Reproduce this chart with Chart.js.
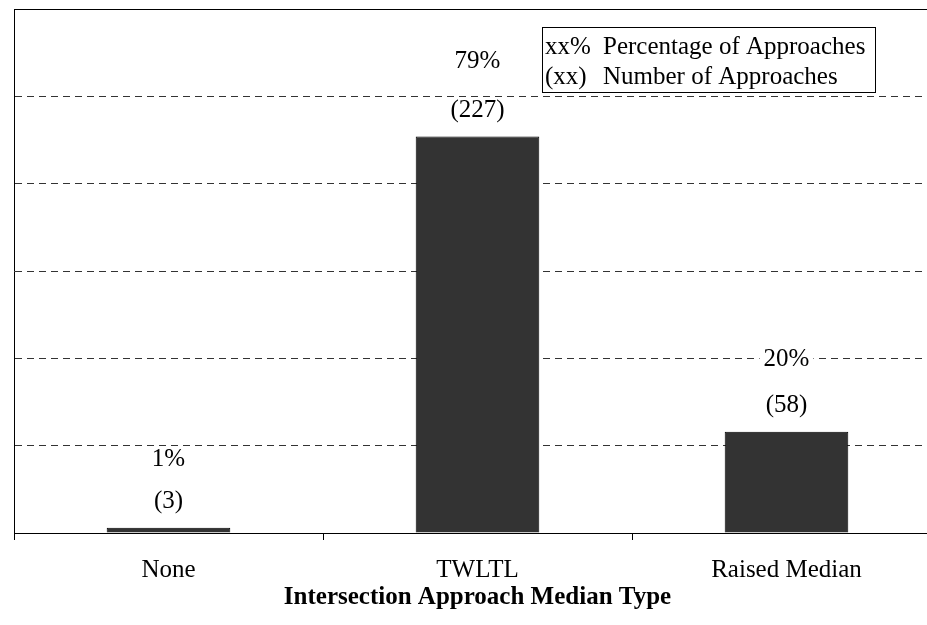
<!DOCTYPE html>
<html>
<head>
<meta charset="utf-8">
<script src="https://cdn.jsdelivr.net/npm/chart.js@4/dist/chart.umd.min.js"></script>
<style>
    html, body { margin: 0; padding: 0; background: #fff; overflow: hidden; }
    #wrap { width: 941px; height: 625px; position: relative; }
</style>
</head>
<body>
<div id="wrap"><canvas id="myChart"></canvas></div>
<script>
var categorias = ["None", "TWLTL", "Raised Median"];
var cantidades = [3, 227, 58];
var porcentajes = [1, 79, 20];
var ticksY = [0, 50, 100, 150, 200, 250, 300];

// separacion entre la etiqueta (xx) y la de xx% en cada barra
var separacionPct = [42, 49, 46];
var fuente = "'Liberation Serif', 'Times New Roman', serif";

function textoConFondo(ctx, texto, x, y) {
    var ancho = ctx.measureText(texto).width;
    ctx.fillStyle = "#fff";
    ctx.fillRect(x - ancho / 2 - 4, y - 12, ancho + 8, 24);
    ctx.fillStyle = "#000";
    ctx.fillText(texto, x, y);
}

var etiquetasBarras = {
    id: "etiquetasBarras",
    afterDatasetsDraw: function(chart) {
        var ctx = chart.ctx;
        var meta = chart.getDatasetMeta(0);
        ctx.save();
        ctx.font = "25px " + fuente;
        ctx.textAlign = "center";
        ctx.textBaseline = "middle";
        meta.data.forEach(function(barra, i) {
            var yCant = barra.y - 26;
            textoConFondo(ctx, "(" + cantidades[i] + ")", barra.x, yCant);
            textoConFondo(ctx, porcentajes[i] + "%", barra.x, yCant - separacionPct[i]);
        });
        ctx.restore();
    }
};

var leyenda = {
    id: "leyenda",
    afterDraw: function(chart) {
        var ctx = chart.ctx;
        ctx.save();
        ctx.fillStyle = "#fff";
        ctx.fillRect(542.5, 27.5, 333, 65);
        ctx.strokeStyle = "#000";
        ctx.lineWidth = 1;
        ctx.strokeRect(542.5, 27.5, 333, 65);
        ctx.fillStyle = "#000";
        ctx.font = "25px " + fuente;
        ctx.textAlign = "left";
        ctx.textBaseline = "middle";
        ctx.fillText("xx%", 545, 47);
        ctx.fillText("Percentage of Approaches", 603, 47);
        ctx.fillText("(xx)", 545, 77);
        ctx.fillText("Number of Approaches", 603, 77);
        ctx.restore();
    }
};

var ctx = document.getElementById("myChart");
var myChart = new Chart(ctx, {
    type: "bar",
    data: {
        labels: categorias,
        datasets: [{
            data: cantidades,
            backgroundColor: "#333333",
            borderColor: "#000000",
            borderWidth: 1,
            barPercentage: 0.4,
            categoryPercentage: 1.0
        }]
    },
    options: {
        responsive: true,
        maintainAspectRatio: false,
        animation: false,
        layout: { padding: { left: 14, top: 9, right: 0, bottom: 0 } },
        plugins: {
            legend: { display: false },
            tooltip: { enabled: false }
        },
        scales: {
            x: {
                offset: true,
                grid: {
                    display: true,
                    offset: true,
                    drawOnChartArea: false,
                    drawTicks: true,
                    tickLength: 7,
                    color: "#000"
                },
                border: { display: true, color: "#000", width: 1 },
                ticks: {
                    color: "#000",
                    padding: 15,
                    font: { family: fuente, size: 25 }
                },
                title: {
                    display: true,
                    text: "Intersection Approach Median Type",
                    color: "#000",
                    font: { family: fuente, size: 25, weight: "bold" },
                    padding: { top: 0, bottom: 12 }
                },
                afterFit: function(scale) { scale.height = 92; }
            },
            y: {
                min: 0,
                max: 300,
                afterBuildTicks: function(scale) {
                    scale.ticks = ticksY.map(function(v) { return { value: v }; });
                },
                ticks: { display: false },
                grid: {
                    drawTicks: false,
                    color: function(c) { return c.tick && c.tick.value === 300 ? "#000" : "#333"; },
                    lineWidth: 1
                },
                border: {
                    display: true,
                    color: "#000",
                    width: 1,
                    dash: function(c) { return c.tick && c.tick.value === 300 ? [] : [7, 5]; }
                },
                afterFit: function(scale) { scale.width = 0; }
            }
        }
    },
    plugins: [etiquetasBarras, leyenda]
});
</script>
</body>
</html>
